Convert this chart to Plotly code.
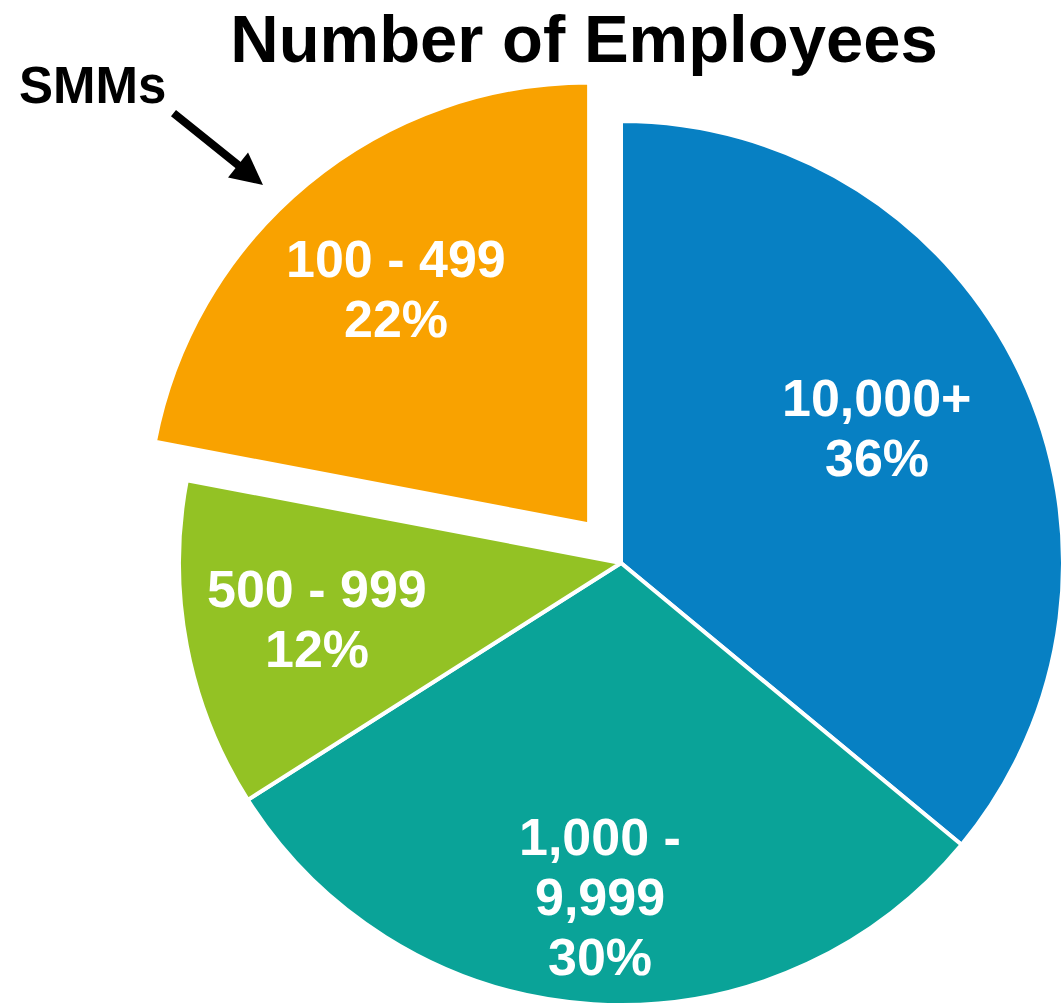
import math
import plotly.graph_objects as go

# ---- data ----
categories = ["10,000+", "1,000 - 9,999", "500 - 999", "100 - 499"]
label_lines = [["10,000+"], ["1,000 -", "9,999"], ["500 - 999"], ["100 - 499"]]
shares = [36, 30, 12, 22]
colors = ["#0780C3", "#0AA398", "#93C224", "#F9A200"]
label_radius = [0.652, 0.762, 0.701, 0.687]   # label distance as fraction of radius
label_angle_shift = [-2.2, 0, 0, 0]           # degrees off the slice bisector
pulled = "100 - 499"
title_text = "Number of Employees"
callout_text = "SMMs"

# ---- layout parameters ----
W, H = 1063, 1006
cx, cy, R = 621, 563, 442          # pixel centre / radius of the pie
pull_px = 50                       # offset of the pulled slice
LINE_H = 60                        # label line spacing (px)
FONT = "Liberation Sans, Arial, sans-serif"

def dom(cxp, cyp, r):
    return dict(x=[(cxp - r) / W, (cxp + r) / W],
                y=[1 - (cyp + r) / H, 1 - (cyp - r) / H])

total = sum(shares)
starts = [sum(shares[:i]) / total * 360 for i in range(len(shares))]
mids = [math.radians(s + v / total * 180) for s, v in zip(starts, shares)]

k = categories.index(pulled)
dx = pull_px * math.sin(mids[k])
dy = -pull_px * math.cos(mids[k])

def trace(show_idx, domain):
    cols = [c if (i in show_idx) else "rgba(0,0,0,0)" for i, c in enumerate(colors)]
    lw = [4 if (i in show_idx) else 0 for i in range(len(colors))]
    return go.Pie(
        labels=categories, values=shares,
        textinfo="none", sort=False, direction="clockwise", rotation=0,
        marker=dict(colors=cols, line=dict(color="white", width=lw)),
        domain=domain, showlegend=False, hoverinfo="label+percent",
    )

main_idx = [i for i in range(len(categories)) if i != k]
fig = go.Figure()
fig.add_trace(trace(main_idx, dom(cx, cy, R)))
fig.add_trace(trace([k], dom(cx + dx, cy + dy, R)))

# slice labels (name lines + percentage), placed along each slice's mid-angle
annotations = []
for i, (lines, v) in enumerate(zip(label_lines, shares)):
    ox, oy = (cx + dx, cy + dy) if i == k else (cx, cy)
    a = mids[i] + math.radians(label_angle_shift[i])
    px = ox + label_radius[i] * R * math.sin(a)
    py = oy - label_radius[i] * R * math.cos(a)
    all_lines = lines + [f"{v}%"]
    n = len(all_lines)
    for j, t in enumerate(all_lines):
        ly = py + (j - (n - 1) / 2) * LINE_H
        annotations.append(dict(
            text=f"<b>{t}</b>", x=px / W, y=1 - (ly - 2) / H,
            xref="paper", yref="paper", showarrow=False,
            xanchor="center", yanchor="middle",
            font=dict(family=FONT, size=52, color="white")))

annotations += [
    dict(text=f"<b>{callout_text}</b>", x=92 / W, y=1 - 86 / H,
         xref="paper", yref="paper", showarrow=False,
         xanchor="center", yanchor="middle",
         font=dict(family=FONT, size=51, color="black")),
    dict(text="", x=263 / W, y=1 - 185 / H, xref="paper", yref="paper",
         showarrow=True, ax=-91, ay=-73, arrowhead=2, arrowsize=0.8,
         arrowwidth=8, arrowcolor="black", standoff=0),
]

fig.update_layout(
    width=W, height=H,
    margin=dict(l=0, r=0, t=0, b=0),
    paper_bgcolor="white", plot_bgcolor="white",
    title=dict(text=f"<b>{title_text}</b>", x=584 / W, xanchor="center",
               y=1 - 39 / H, yanchor="middle", yref="container",
               font=dict(family=FONT, size=67, color="black")),
    annotations=annotations,
)

fig.write_html("out.html")
